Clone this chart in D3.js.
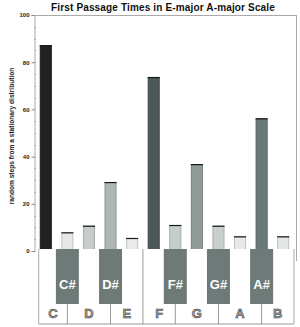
<!DOCTYPE html>
<html><head><meta charset="utf-8">
<script src="https://cdn.jsdelivr.net/npm/d3@7"></script>
<style>
html,body{margin:0;padding:0;background:#fff;}
svg{display:block;font-family:"Liberation Sans",Arial,sans-serif;}
</style></head>
<body><svg id="c" width="300" height="327"></svg>
<script>
const notes = ["C","C#","D","D#","E","F","F#","G","G#","A","A#","B"];
const values = [87, 7.7, 10.5, 29, 5.3, 73.5, 10.8, 36.6, 10.5, 6, 56, 6];
const barColors = ["#222222","#e6e9e7","#c6ccca","#afb6b4","#e8ebe9","#4d5958","#c6cecb","#8f9b98","#c8cfcc","#e4e8e6","#6a7877","#e3e7e5"];
const yTicks = [0,20,40,60,80,100];
const title = "First Passage Times in E-major A-major Scale";
const yLabel = "random steps from a stationary distribution";

const svg = d3.select("#c");
const x = d3.scaleBand().domain(notes).range([35,294]).paddingInner(0.44).paddingOuter(0.22);
const y = d3.scaleLinear().domain([0,100]).range([251,15]);
const bw = x.bandwidth();

// title
svg.append("text").attr("x",163).attr("y",11).attr("text-anchor","middle")
  .attr("font-size",10).attr("font-weight","bold").attr("letter-spacing",0.15).attr("fill","#111").text(title);

// frame
svg.append("line").attr("x1",34.5).attr("x2",296.5).attr("y1",y(100)+0.5).attr("y2",y(100)+0.5).attr("stroke","#aaa");
svg.append("line").attr("x1",296.5).attr("x2",296.5).attr("y1",y(100)).attr("y2",261).attr("stroke","#aaa");

// minor ticks
svg.append("g").selectAll("line").data(d3.range(0,101,5)).join("line")
  .attr("x1",34).attr("x2",36).attr("y1",d=>Math.round(y(d))+0.5).attr("y2",d=>Math.round(y(d))+0.5)
  .attr("stroke","#bbb");

// y axis
const ax = svg.append("g").attr("transform","translate(34.5,0)")
  .call(d3.axisLeft(y).tickValues(yTicks).tickSize(3).tickPadding(2));
ax.select(".domain").attr("stroke","#aaa");
ax.selectAll(".tick line").attr("stroke","#888");
ax.selectAll(".tick text").attr("font-size",6).attr("font-weight","bold").attr("fill","#222")
  .attr("font-family","Liberation Sans, Arial, sans-serif");

svg.append("text").attr("transform",`translate(14,136) rotate(-90)`).attr("text-anchor","middle")
  .attr("font-size",6.6).attr("font-weight","bold").attr("fill","#222").text(yLabel);

// bars
const bars = svg.append("g");
notes.forEach((n,i)=>{
  const c = d3.color(barColors[i]);
  bars.append("rect").attr("x",x(n)+0.5).attr("y",y(values[i])).attr("width",bw-1).attr("height",y(0)-y(values[i]))
    .attr("fill",barColors[i]).attr("stroke",c.darker(0.5)).attr("stroke-width",1);
  bars.append("line").attr("x1",x(n)).attr("x2",x(n)+bw).attr("y1",y(values[i])).attr("y2",y(values[i]))
    .attr("stroke","#1a1a1a").attr("stroke-width",1.2);
});

// keyboard
const kTop = 249, kBot = 324, bBot = 304;
const kLeft = x("C") - 1, kRight = 294;
const kb = svg.append("g");
kb.append("rect").attr("x",kLeft).attr("y",kTop).attr("width",kRight-kLeft).attr("height",kBot-kTop).attr("fill","#fff");
const center = n => x(n) + bw/2;
const whites = notes.filter(n=>!n.includes("#"));
const edges = [kLeft];
notes.forEach((n,i)=>{
  if(n.includes("#")) return;
  const next = notes[i+1];
  if(!next){edges.push(kRight);}
  else if(next.includes("#")) edges.push(center(next));
  else edges.push((x(n)+bw + x(next))/2);
});
kb.append("line").attr("x1",kLeft).attr("x2",kRight).attr("y1",kBot).attr("y2",kBot).attr("stroke","#999");
kb.append("line").attr("x1",kLeft).attr("x2",kLeft).attr("y1",kTop).attr("y2",kBot).attr("stroke","#aaa");
kb.append("line").attr("x1",kRight).attr("x2",kRight).attr("y1",kTop).attr("y2",kBot).attr("stroke","#aaa");
edges.slice(1,-1).forEach(e=>{
  kb.append("line").attr("x1",e).attr("x2",e).attr("y1",kTop).attr("y2",kBot).attr("stroke","#999");
});
whites.forEach((n,i)=>{
  const cx = (edges[i]+edges[i+1])/2;
  kb.append("text").attr("x",cx).attr("y",318).attr("text-anchor","middle")
    .attr("font-size",13).attr("font-weight","bold").attr("fill","#a0a0a0")
    .attr("stroke","#333").attr("stroke-width",0.5).text(n);
});
notes.filter(n=>n.includes("#")).forEach(n=>{
  const cx = center(n);
  kb.append("rect").attr("x",cx-11.5).attr("y",kTop).attr("width",23).attr("height",bBot-kTop).attr("fill","#6e7a78");
  kb.append("text").attr("x",cx).attr("y",289).attr("text-anchor","middle")
    .attr("font-size",13).attr("font-weight","bold").attr("fill","#fff").text(n);
});
</script></body></html>
